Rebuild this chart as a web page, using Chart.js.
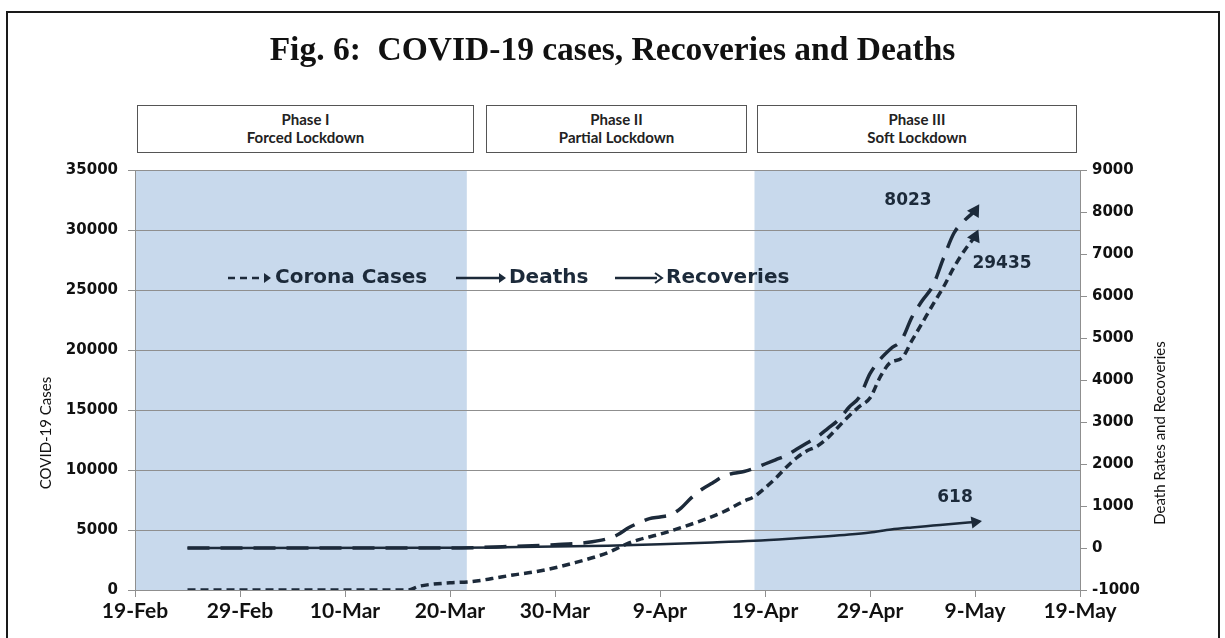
<!DOCTYPE html>
<html>
<head>
<meta charset="utf-8">
<script src="https://cdn.jsdelivr.net/npm/chart.js@4.4.1/dist/chart.umd.min.js"></script>
<style>
  body { margin: 0; background: #fff; width: 1225px; height: 638px; overflow: hidden; position: relative; }
  #frame { position: absolute; left: 6px; top: 11px; width: 1210px; height: 700px; border: 2px solid #1a1a1a; }
  #title { position: absolute; left: 0; top: 30px; width: 1225px; text-align: center;
           font: bold 33.5px "Liberation Serif", serif; color: #111; }
  .phase { position: absolute; top: 105px; height: 48px; border: 1.5px solid #555; background: #fff;
           box-sizing: border-box; padding-top: 4px; text-align: center;
           font: bold 15px Lato, sans-serif; line-height: 18px; color: #222; }
  canvas { position: absolute; left: 0; top: 0; }
</style>
</head>
<body>
<div id="frame"></div>
<canvas id="covid" width="1225" height="638"></canvas>
<div id="title">Fig. 6:&nbsp; COVID-19 cases, Recoveries and Deaths</div>

<script>
// x axis is days since 19-Feb, labelled every 10 days
const tickDates = ['19-Feb', '29-Feb', '10-Mar', '20-Mar', '30-Mar', '9-Apr', '19-Apr', '29-Apr', '9-May', '19-May'];

// lockdown phases
const phaseNames = ['Phase I', 'Phase II', 'Phase III'];
const phaseTypes = ['Forced Lockdown', 'Partial Lockdown', 'Soft Lockdown'];
const shadedFrom = [0, 59];
const shadedTo = [31.6, 90];

// Corona cases (left axis)
const caseDays = [5, 26, 27, 28, 30, 32, 34, 36, 38, 40, 42, 44, 45, 46, 47, 48, 50, 52, 54, 56, 58, 59, 60, 61, 62,
    63, 64, 65, 66, 67, 68, 69, 70, 71, 72, 73, 74, 75, 76, 77, 78, 79, 80];
const caseValues = [0, 0, 300, 450, 600, 700, 950, 1250, 1500, 1850, 2300, 2800, 3100, 3500, 3900, 4200, 4650, 5200, 5800, 6500, 7400, 7800, 8500, 9300, 10200,
    11000, 11600, 12000, 12700, 13600, 14500, 15300, 16000, 17800, 19000, 19300, 20800, 22300, 23800, 25250, 26900, 28300, 29435];

// Deaths (right axis)
const deathDays = [5, 30, 35, 40, 45, 50, 55, 59, 63, 66, 68, 70, 72, 74, 76, 78, 80];
const deathValues = [0, 3, 15, 35, 55, 90, 130, 170, 230, 280, 320, 370, 440, 490, 535, 580, 618];

// Recoveries (right axis)
const recDays = [5, 30, 35, 40, 43, 45, 46, 47, 48, 49, 50, 51, 52, 53, 54, 55, 56, 57, 58, 59, 60, 61, 62, 63, 64,
    65, 66, 67, 68, 69, 70, 71, 72, 73, 74, 75, 76, 77, 78, 79, 80];
const recValues = [0, 0, 30, 80, 130, 220, 320, 480, 600, 700, 740, 790, 950, 1200, 1400, 1550, 1700, 1780, 1820, 1900, 2000, 2100, 2200, 2350, 2500,
    2650, 2850, 3050, 3350, 3600, 4150, 4500, 4750, 4950, 5500, 5900, 6250, 6900, 7500, 7800, 8023];

const ink = '#1c2a3a';
const gridGrey = '#8f8f8f';

// phase boxes above the plot
const boxLeft = [137, 486, 757];
const boxRight = [474, 747, 1077];
phaseNames.forEach((name, i) => {
    let div = document.createElement('div');
    div.className = 'phase';
    div.style.left = boxLeft[i] + 'px';
    div.style.width = (boxRight[i] - boxLeft[i]) + 'px';
    div.innerHTML = name + '<br>' + phaseTypes[i];
    document.body.appendChild(div);
});

function points(days, values) {
    return days.map((d, i) => ({ x: d, y: values[i] }));
}

// only the last point is shown, as an arrow head
function lastOnly(size) {
    return ctx => ctx.dataIndex === ctx.dataset.data.length - 1 ? size : 0;
}

function arrowRight(ctx, x, y, open) {
    ctx.beginPath();
    ctx.moveTo(x - 7, y - 5);
    ctx.lineTo(x, y);
    ctx.lineTo(x - 7, y + 5);
    if (open) {
        ctx.lineWidth = 2;
        ctx.stroke();
    } else {
        ctx.closePath();
        ctx.fill();
    }
}

const phaseShading = {
    id: 'phaseShading',
    beforeDraw(chart) {
        let { ctx, chartArea, scales } = chart;
        ctx.save();
        ctx.fillStyle = '#c8d9ec';
        shadedFrom.forEach((from, i) => {
            let x1 = scales.x.getPixelForValue(from);
            let x2 = scales.x.getPixelForValue(shadedTo[i]);
            ctx.fillRect(x1, chartArea.top, x2 - x1, chartArea.bottom - chartArea.top);
        });
        ctx.restore();
    }
};

const decorations = {
    id: 'decorations',
    afterDraw(chart) {
        let { ctx, chartArea } = chart;
        ctx.save();

        // axis titles
        ctx.fillStyle = '#111';
        ctx.font = '15px Lato, sans-serif';
        ctx.textAlign = 'center';
        ctx.textBaseline = 'middle';
        let midY = chartArea.top + 263;
        ctx.save();
        ctx.translate(46, midY);
        ctx.rotate(-Math.PI / 2);
        ctx.fillText('COVID-19 Cases', 0, 0);
        ctx.restore();
        ctx.save();
        ctx.translate(1160, midY);
        ctx.rotate(-Math.PI / 2);
        ctx.fillText('Death Rates and Recoveries', 0, 0);
        ctx.restore();

        // legend inside the plot
        let ly = chartArea.top + 108;
        ctx.strokeStyle = ink;
        ctx.fillStyle = ink;
        ctx.lineWidth = 2.5;
        ctx.setLineDash([7, 5]);
        ctx.beginPath();
        ctx.moveTo(228, ly);
        ctx.lineTo(262, ly);
        ctx.stroke();
        ctx.setLineDash([]);
        arrowRight(ctx, 271, ly, false);
        ctx.lineWidth = 2.5;
        ctx.beginPath();
        ctx.moveTo(456, ly);
        ctx.lineTo(500, ly);
        ctx.stroke();
        arrowRight(ctx, 506, ly, false);
        ctx.lineWidth = 2.5;
        ctx.beginPath();
        ctx.moveTo(615, ly);
        ctx.lineTo(657, ly);
        ctx.stroke();
        arrowRight(ctx, 662, ly, true);

        ctx.font = 'bold 20px "DejaVu Sans", sans-serif';
        ctx.textAlign = 'left';
        ctx.fillText('Corona Cases', 275, ly);
        ctx.fillText('Deaths', 509, ly);
        ctx.fillText('Recoveries', 666, ly);

        // end values next to the arrow heads
        ctx.font = 'bold 17px "DejaVu Sans", sans-serif';
        ctx.textAlign = 'center';
        let ends = [[0, 29435, 27, 27], [1, 618, -20, -24], [2, 8023, -67, -10]];
        ends.forEach(([di, value, dx, dy]) => {
            let meta = chart.getDatasetMeta(di);
            let p = meta.data[meta.data.length - 1];
            ctx.fillText(String(value), p.x + dx, p.y + dy);
        });
        ctx.restore();
    }
};

let cntx = document.getElementById('covid').getContext('2d');

let chart = new Chart(cntx, {
    type: 'line',
    data: {
        datasets: [{
            label: 'Corona Cases',
            data: points(caseDays, caseValues),
            yAxisID: 'y',
            borderColor: ink,
            backgroundColor: ink,
            borderWidth: 3.5,
            borderDash: [8, 5],
            cubicInterpolationMode: 'monotone',
            pointStyle: 'triangle',
            pointRadius: lastOnly(4.5),
            pointRotation: 25
        }, {
            label: 'Deaths',
            data: points(deathDays, deathValues),
            yAxisID: 'y1',
            borderColor: ink,
            backgroundColor: ink,
            borderWidth: 2.5,
            cubicInterpolationMode: 'monotone',
            pointStyle: 'triangle',
            pointRadius: lastOnly(4.5),
            pointRotation: 82
        }, {
            label: 'Recoveries',
            data: points(recDays, recValues),
            yAxisID: 'y1',
            borderColor: ink,
            backgroundColor: ink,
            borderWidth: 3.5,
            borderDash: [22, 11],
            cubicInterpolationMode: 'monotone',
            pointStyle: 'triangle',
            pointRadius: lastOnly(4.5),
            pointRotation: 32
        }]
    },
    options: {
        responsive: false,
        animation: false,
        devicePixelRatio: 1,
        layout: { padding: { top: 170, left: 0, right: 0, bottom: 0 } },
        plugins: {
            legend: { display: false },
            title: { display: false },
            tooltip: { enabled: false }
        },
        scales: {
            x: {
                type: 'linear',
                min: 0,
                max: 90,
                afterFit: s => { s.height = 48; },
                afterBuildTicks: s => { s.ticks = tickDates.map((t, i) => ({ value: i * 10 })); },
                ticks: {
                    callback: v => tickDates[v / 10],
                    color: '#111',
                    font: { family: 'Lato', size: 21, weight: 'bold' },
                    padding: 2,
                    maxRotation: 0
                },
                grid: { drawOnChartArea: false, color: gridGrey, tickLength: 7 },
                border: { color: gridGrey }
            },
            y: {
                position: 'left',
                min: 0,
                max: 35000,
                afterFit: s => { s.width = 135; },
                ticks: {
                    stepSize: 5000,
                    callback: v => String(v),
                    color: '#111',
                    font: { family: 'DejaVu Sans', size: 15, weight: 'bold' },
                    padding: 10
                },
                grid: { color: gridGrey, tickLength: 7 },
                border: { color: gridGrey }
            },
            y1: {
                position: 'right',
                min: -1000,
                max: 9000,
                afterFit: s => { s.width = 145; },
                ticks: {
                    stepSize: 1000,
                    callback: v => String(v),
                    color: '#111',
                    font: { family: 'DejaVu Sans', size: 15, weight: 'bold' },
                    padding: 5
                },
                grid: { drawOnChartArea: false, color: gridGrey, tickLength: 7 },
                border: { color: gridGrey }
            }
        }
    },
    plugins: [phaseShading, decorations]
});
</script>
</body>
</html>
